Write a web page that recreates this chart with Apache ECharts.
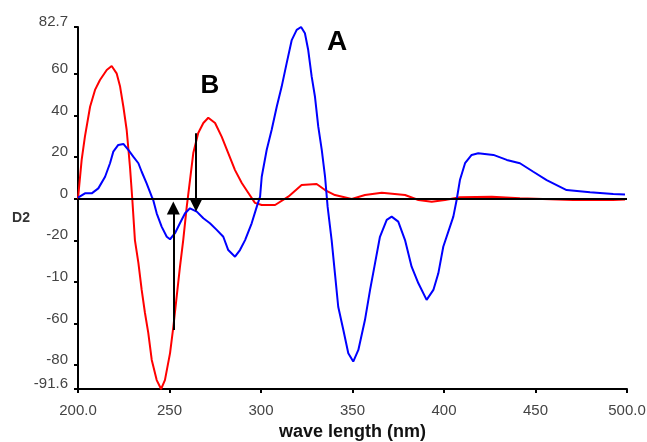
<!DOCTYPE html>
<html>
<head>
<meta charset="utf-8">
<script src="https://cdn.jsdelivr.net/npm/echarts@6/dist/echarts.min.js"></script>
<style>
html,body{margin:0;padding:0;background:#fff;}
#chart{width:647px;height:442px;}
</style>
</head>
<body>
<div id="chart"></div>
<script>
// ---- data ----
var xTickValues = [200, 250, 300, 350, 400, 450, 500];
var xTickLabels = ['200.0', '250', '300', '350', '400', '450', '500.0'];
var yTickValues = [82.7, 60, 40, 20, 0, -20, -40, -60, -80, -91.6];
var yTickLabels = ['82.7', '60', '40', '20', '0', '-20', '-10', '-60', '-80', '-91.6'];

var redNm = [200,202,203.8,206.6,209.3,212,215.7,218.4,221.1,223,224.8,226.6,228.4,229.7,231.1,233,234.8,236.6,238.4,240.3,243,245.4,247.5,250.3,252.1,253.9,255.7,257.5,259.4,261.2,263,265.7,268.5,271.2,274.9,278.5,282.1,285.8,289.5,293.1,296.7,300.4,307.7,314.9,322.2,330.4,335,340.4,349.6,356.8,366,378.7,386,393.3,400.5,408.7,426.1,441.5,470.5,492.3,498.9];
var redD2 = [0,18.7,30,44.3,52.4,57.2,62,63.9,60.4,54,44.3,33.1,15.4,-0.6,-19.9,-30.9,-43.9,-55,-64.6,-77.6,-87.3,-91.6,-87.3,-74.3,-61.7,-47.3,-32.9,-19.9,-4,9,22,31.7,36.5,39,36.5,29.9,22,13.8,7.6,2.8,-2,-3,-3,1,6.6,7.1,4.2,1.8,-0.1,1.8,2.9,1.8,-0.6,-1.4,-0.6,0.7,1,0.3,-0.6,-0.6,-0.3];

var blueNm = [200,203.8,207.5,211.1,214.8,217.5,219.3,222,224.8,227.5,230.2,233,234.8,237.5,240.3,241.1,243,245.7,248.5,250.3,253,255.7,258.5,261.2,264.9,268.5,272.1,275.8,279.4,282.1,285.8,288.5,291.3,294.9,297.7,299.5,300.4,303.1,305.8,308.6,311.3,314,316.8,319.5,321.9,324,325.8,327.7,329.5,331.3,333.2,335,336.4,338.6,340.4,342.2,345,347.7,350.4,353.2,356.8,359.6,362.3,365,368.7,371.4,375,378.7,382.3,386,390.5,394.2,396.9,399.6,405.1,406.9,408.7,411.5,415.1,418.7,427,434.3,441.5,448.8,456.1,467,479.8,492.5,498.9];
var blueD2 = [0.5,2.6,2.6,5,10.6,17.1,22.7,25.9,26.4,23.5,20.3,17.1,13,7.4,1,-0.6,-7,-13.4,-18.3,-19.5,-16.6,-11.8,-7,-4.6,-6.2,-9.4,-11.8,-15,-18.3,-24.7,-27.9,-24.7,-19.9,-11.8,-3.8,1,10.6,23.5,33.1,44.3,54,65.2,76.4,81.3,82.7,79.7,71.6,58.8,49.1,34.7,23.5,10.6,-3.8,-19.9,-35.9,-52,-63.2,-74.4,-78.4,-72.8,-58.4,-43.9,-31.1,-18.3,-10.2,-8.6,-11,-19.9,-32.7,-40.7,-48.7,-43.9,-35.9,-23.1,-8.6,-0.6,9,17.1,21.1,21.9,21.1,18.7,17.1,13,9,4.2,3.1,2.3,2.1];

// annotation arrows: [x, yFrom, yTo]
var arrowUp = [252.1, -63.2, -4.4];
var arrowDown = [264.5, 31.5, -3.0];

var curveLabels = ['A', 'B'];
var xName = 'wave length (nm)';
var yName = 'D2';

function zip(xs, ys) { return xs.map(function (x, i) { return [x, ys[i]]; }); }

var chart = echarts.init(document.getElementById('chart'), null, { renderer: 'canvas' });
var font = 'Liberation Sans, Arial, sans-serif';

chart.setOption({
  animation: false,
  backgroundColor: '#ffffff',
  grid: { left: 78, right: 20, top: 27, bottom: 53, containLabel: false, outerBoundsMode: 'none' },
  xAxis: {
    type: 'value', min: 200, max: 500, interval: 50,
    name: xName, nameLocation: 'middle', nameGap: 33,
    nameTextStyle: { fontFamily: font, fontWeight: 'bold', fontSize: 18, color: '#111' },
    axisLine: { onZero: false, lineStyle: { color: '#000', width: 2 } },
    axisTick: { show: true, length: 4, lineStyle: { color: '#000', width: 2 } },
    splitLine: { show: false },
    axisLabel: {
      margin: 14, fontFamily: font, fontSize: 15, color: '#444',
      formatter: function (v) { var i = xTickValues.indexOf(v); return i >= 0 ? xTickLabels[i] : ''; }
    }
  },
  yAxis: {
    type: 'value', min: -91.6, max: 82.7,
    axisLine: { show: true, lineStyle: { color: '#000', width: 2 } },
    axisTick: { show: true, length: 4, customValues: yTickValues, lineStyle: { color: '#000', width: 2 } },
    splitLine: { show: false },
    axisLabel: {
      customValues: yTickValues,
      margin: 10, fontFamily: font, fontSize: 15, color: '#444',
      verticalAlign: 'bottom', lineHeight: 10,
      formatter: function (v) {
        for (var i = 0; i < yTickValues.length; i++) { if (Math.abs(yTickValues[i] - v) < 1e-6) return yTickLabels[i]; }
        return '';
      }
    }
  },
  graphic: [
    { type: 'text', x: 21, y: 218, style: { text: yName, font: 'bold 14px ' + font, fill: '#333', textAlign: 'center', textVerticalAlign: 'middle' } },
    { type: 'text', x: 337, y: 42, style: { text: curveLabels[0], font: 'bold 28px ' + font, fill: '#000', textAlign: 'center', textVerticalAlign: 'middle' } },
    { type: 'text', x: 210, y: 86, style: { text: curveLabels[1], font: 'bold 26px ' + font, fill: '#000', textAlign: 'center', textVerticalAlign: 'middle' } }
  ],
  series: [
    {
      name: 'B', type: 'line', data: zip(redNm, redD2), showSymbol: false, smooth: false,
      lineStyle: { color: '#ff0000', width: 2 }, itemStyle: { color: '#ff0000' }, z: 2,
      markLine: {
        silent: true, symbol: ['none', 'triangle'], symbolSize: [13, 13],
        label: { show: false },
        lineStyle: { color: '#000', width: 2, type: 'solid' },
        data: [
          [{ coord: [arrowUp[0], arrowUp[1]] }, { coord: [arrowUp[0], arrowUp[2]] }],
          [{ coord: [arrowDown[0], arrowDown[1]] }, { coord: [arrowDown[0], arrowDown[2]] }]
        ]
      }
    },
    {
      name: 'A', type: 'line', data: zip(blueNm, blueD2), showSymbol: false, smooth: false,
      lineStyle: { color: '#0000ff', width: 2 }, itemStyle: { color: '#0000ff' }, z: 3,
      markLine: {
        silent: true, symbol: 'none', label: { show: false },
        lineStyle: { color: '#000', width: 2, type: 'solid' },
        data: [{ yAxis: 0 }]
      }
    }
  ]
});
</script>
</body>
</html>
